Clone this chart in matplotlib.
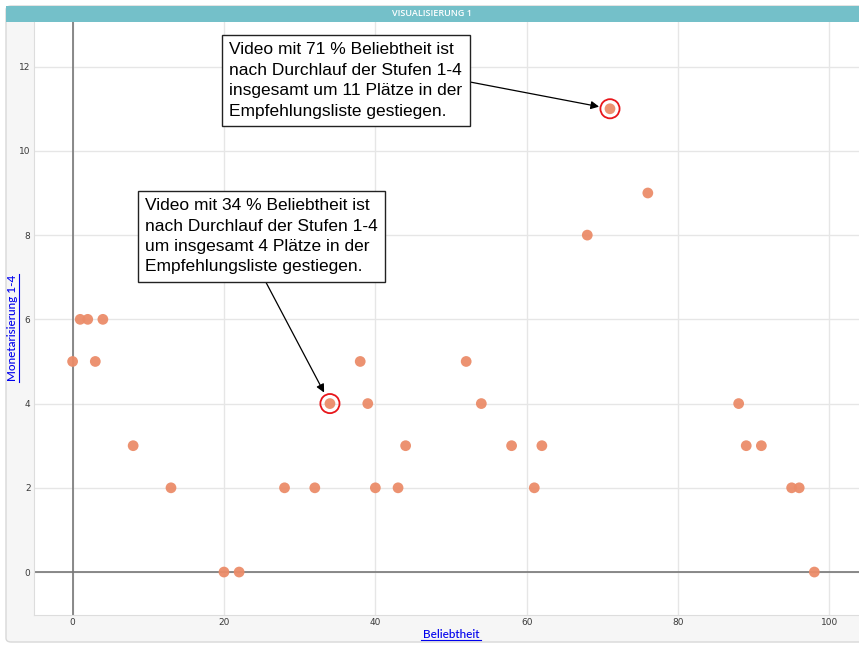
import matplotlib
matplotlib.use("Agg")
import matplotlib.pyplot as plt
from matplotlib.patches import Rectangle, FancyBboxPatch
from matplotlib.lines import Line2D

# Data
beliebtheit = [0, 1, 2, 3, 4, 8, 13, 20, 22, 28, 32, 34, 38, 39, 40, 43, 44,
               52, 54, 58, 61, 62, 68, 71, 76, 88, 89, 91, 95, 96, 98]
monetarisierung = [5, 6, 6, 5, 6, 3, 2, 0, 0, 2, 2, 4, 5, 4, 2, 2, 3,
                   5, 4, 3, 2, 3, 8, 11, 9, 4, 3, 3, 2, 2, 0]
highlight_x = [34, 71]
highlight_y = [4, 11]
x_ticks = [0, 20, 40, 60, 80, 100]
y_ticks = [0, 2, 4, 6, 8, 10, 12]
title = "VISUALISIERUNG 1"
x_label = "Beliebtheit"
y_label = "Monetarisierung 1-4"
note_71 = ("Video mit 71 % Beliebtheit ist\nnach Durchlauf der Stufen 1-4\n"
           "insgesamt um 11 Plätze in der\nEmpfehlungsliste gestiegen.")
note_34 = ("Video mit 34 % Beliebtheit ist\nnach Durchlauf der Stufen 1-4\n"
           "um insgesamt 4 Plätze in der\nEmpfehlungsliste gestiegen.")

W, H = 859, 646
fig = plt.figure(figsize=(W / 100, H / 100), dpi=100)
fig.patch.set_facecolor("white")

def fx(px):
    return px / W

def fy(py):
    return 1 - py / H

# card background
card = FancyBboxPatch((fx(6), fy(642)), fx(880), fy(6) - fy(642),
                      boxstyle="round,pad=0,rounding_size=0.006",
                      transform=fig.transFigure, facecolor="#f6f6f6",
                      edgecolor="#d8d8d8", linewidth=1, zorder=-2)
fig.patches.append(card)
# header bar
header = Rectangle((fx(6), fy(22)), 1, fy(6) - fy(22), transform=fig.transFigure,
                   facecolor="#74c0c9", edgecolor="none", zorder=-1)
fig.patches.append(header)
fig.text(fx(432), fy(14), title, color="white", fontsize=6.5, ha="center",
         va="center", family="Open Sans", fontweight="semibold")

ax = fig.add_axes([fx(34), fy(615), 1 - fx(34), fy(22) - fy(615)])
ax.set_zorder(2)
ax.set_facecolor("white")
ax.set_xlim(-5.1, 103.9)
ax.set_ylim(-1.02, 13.06)
ax.set_xticks(x_ticks)
ax.set_yticks(y_ticks)
ax.grid(True, color="#e6e6e6", linewidth=1)
ax.set_axisbelow(True)
for s in ax.spines.values():
    s.set_visible(False)
ax.spines["bottom"].set_visible(True)
ax.spines["bottom"].set_color("#dddddd")
ax.spines["left"].set_visible(True)
ax.spines["left"].set_color("#dddddd")
ax.tick_params(length=0, labelsize=6.5, labelcolor="#3a3a3a", pad=2.5)
ax.axhline(0, color="#777777", linewidth=1.2, zorder=1)
ax.axvline(0, color="#777777", linewidth=1.2, zorder=1)

ax.scatter(beliebtheit, monetarisierung, s=60, color="#eb8c69", edgecolors="none",
           zorder=3, alpha=0.95)
ax.scatter(highlight_x, highlight_y, s=190, facecolors="none", edgecolors="#e8161b",
           linewidths=1.3, zorder=4)

bbox = dict(boxstyle="square,pad=0.42", facecolor="white", edgecolor="#222222",
            linewidth=1)
txt_kw = dict(fontsize=12.5, family="Liberation Sans", ha="center", va="center",
              multialignment="left", linespacing=1.45, bbox=bbox, zorder=5)
ax.annotate(note_71, xy=(71, 11), xytext=(36.1, 11.67), textcoords="data",
            arrowprops=dict(arrowstyle="-|>", color="black", lw=0.9,
                            shrinkA=0, shrinkB=8, mutation_scale=12,
                            relpos=(1.0, 0.5)),
            **txt_kw)
ax.annotate(note_34, xy=(34, 4), xytext=(25.0, 7.97), textcoords="data",
            arrowprops=dict(arrowstyle="-|>", color="black", lw=0.9,
                            shrinkA=0, shrinkB=9, mutation_scale=12,
                            relpos=(0.5, 0.0)),
            **txt_kw)

# axis labels (blue, underlined)
fig.text(fx(451), fy(635), x_label, color="#0000ee", fontsize=8.5,
         ha="center", va="center", family="Lato", fontweight="medium")
fig.text(fx(13), fy(328), y_label, color="#0000ee", fontsize=8.5,
         ha="center", va="center", rotation=90, family="Lato", fontweight="medium")
fig.lines.append(Line2D([fx(421), fx(481)], [fy(640), fy(640)], color="#0000ee",
                        linewidth=0.8, transform=fig.transFigure))
fig.lines.append(Line2D([fx(18.5), fx(18.5)], [fy(274), fy(382)], color="#0000ee",
                        linewidth=0.8, transform=fig.transFigure))

fig.savefig("out.png", dpi=100)
